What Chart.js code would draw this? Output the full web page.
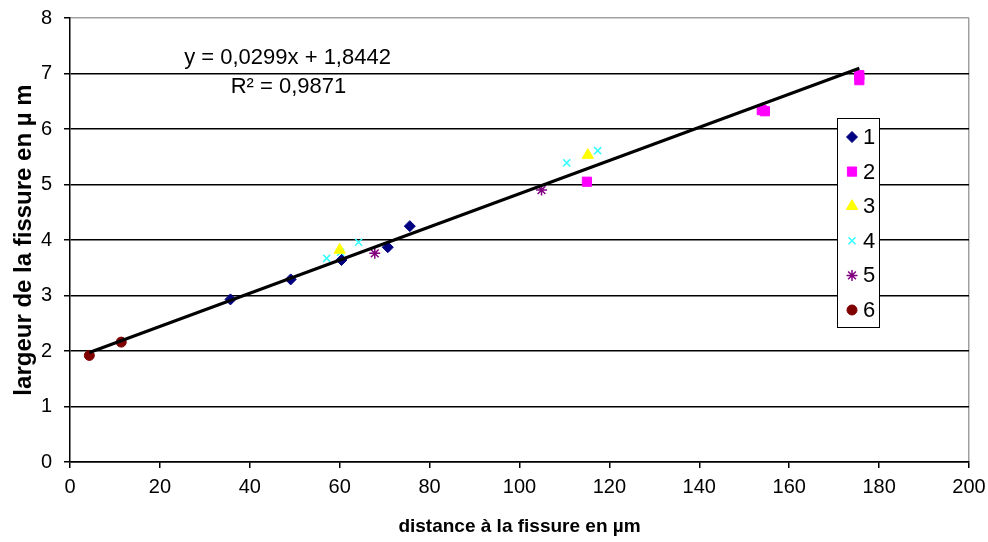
<!DOCTYPE html>
<html>
<head>
<meta charset="utf-8">
<script src="https://cdn.jsdelivr.net/npm/chart.js@4"></script>
<style>
  html, body { margin: 0; padding: 0; background: #fff; }
  #wrap { width: 988px; height: 542px; }
</style>
</head>
<body>
<div id="wrap"><canvas id="chart" width="988" height="542"></canvas></div>
<script>
// values (x = distance, y = largeur)
const serie1 = [[35.7, 2.93], [49.1, 3.29], [60.4, 3.64], [70.7, 3.87], [75.6, 4.25]];
const serie2 = [[115.0, 5.05], [153.9, 6.34], [154.6, 6.32], [175.6, 6.88], [175.6, 6.97]];
const serie3 = [[60.0, 3.82], [115.2, 5.53]];
const serie4 = [[57.1, 3.67], [60.2, 3.78], [64.2, 3.96], [110.5, 5.39], [117.4, 5.61]];
const serie5 = [[67.8, 3.76], [104.9, 4.90]];
const serie6 = [[4.3, 1.92], [11.4, 2.16]];

const seriesNames = ['1', '2', '3', '4', '5', '6'];

// linear trendline shown on the chart
const pente = 0.0299;
const ordonnee = 1.8442;
const equation = 'y = 0,0299x + 1,8442';
const r2Text = 'R² = 0,9871';

const xTicks = [0, 20, 40, 60, 80, 100, 120, 140, 160, 180, 200];
const yTicks = [0, 1, 2, 3, 4, 5, 6, 7, 8];

const FONT = "'Liberation Sans', Arial, sans-serif";

const toPts = arr => arr.map(p => ({x: p[0], y: p[1]}));

const allX = [serie1, serie2, serie3, serie4, serie5, serie6].flat().map(p => p[0]);
const xMin = Math.min(...allX), xMax = Math.max(...allX);
const trend = [xMin, xMax].map(x => ({x: x, y: pente * x + ordonnee}));

const styles = [
    {pointStyle: 'rectRot', color: '#000080', r: 5.5},
    {pointStyle: 'rect', color: '#ff00ff', r: 6.5},
    {pointStyle: 'triangle', color: '#ffff00', r: 6.5},
    {pointStyle: 'crossRot', color: '#33ffff', r: 5},
    {pointStyle: 'star', color: '#800080', r: 5.5},
    {pointStyle: 'circle', color: '#800000', r: 5},
];

const datasets = [serie1, serie2, serie3, serie4, serie5, serie6].map((s, i) => ({
    label: seriesNames[i],
    data: toPts(s),
    pointStyle: styles[i].pointStyle,
    pointRadius: styles[i].r,
    backgroundColor: styles[i].color,
    borderColor: styles[i].color,
    borderWidth: (styles[i].pointStyle == 'crossRot' || styles[i].pointStyle == 'star') ? 1.5 : 1,
    showLine: false,
    order: 1,
}));

datasets.push({
    label: 'trend',
    data: trend,
    showLine: true,
    borderColor: '#000',
    borderWidth: 3,
    pointRadius: 0,
    order: 0,
});

// equation + custom legend box inside the plot area
const extras = {
    id: 'extras',
    afterDraw(chart) {
        const ctx = chart.ctx;
        const xs = chart.scales.x, ys = chart.scales.y;
        const area = chart.chartArea;
        ctx.save();
        ctx.fillStyle = '#000';
        ctx.font = "22px " + FONT;
        ctx.textAlign = 'center';
        ctx.textBaseline = 'middle';
        ctx.fillText(equation, xs.getPixelForValue(48.4), ys.getPixelForValue(7.28));
        ctx.fillText(r2Text, xs.getPixelForValue(48.6), ys.getPixelForValue(6.76));

        // legend
        const left = area.right - 132, top = 118, w = 42, h = 209;
        ctx.fillStyle = '#fff';
        ctx.fillRect(left, top, w, h);
        ctx.strokeStyle = '#000';
        ctx.lineWidth = 1;
        ctx.strokeRect(left + 0.5, top + 0.5, w, h);
        ctx.textAlign = 'left';
        const step = 34.6;
        for (let i = 0; i < 6; i++) {
            const cy = top + 19 + i * step;
            const ds = chart.data.datasets[i];
            ctx.fillStyle = ds.backgroundColor;
            ctx.strokeStyle = ds.borderColor;
            ctx.lineWidth = ds.borderWidth;
            Chart.helpers.drawPoint(ctx, {pointStyle: ds.pointStyle, radius: ds.pointRadius, rotation: 0, borderWidth: ds.borderWidth}, left + 15, cy);
            ctx.fillStyle = '#000';
            ctx.font = "22px " + FONT;
            ctx.fillText(ds.label, left + 26, cy + 1);
        }
        ctx.restore();
    }
};

new Chart(document.getElementById('chart'), {
    type: 'scatter',
    data: {datasets: datasets},
    options: {
        responsive: false,
        animation: false,
        layout: {padding: {top: 18, right: 19, left: 0, bottom: 0}},
        plugins: {
            legend: {display: false},
            tooltip: {enabled: false},
        },
        scales: {
            x: {
                type: 'linear',
                min: 0, max: 200,
                afterBuildTicks: s => { s.ticks = xTicks.map(v => ({value: v})); },
                afterFit: s => { s.height = 80; s.paddingLeft = 0; s.paddingRight = 0; },
                ticks: {color: '#000', font: {family: FONT, size: 20}, padding: 7, maxRotation: 0},
                grid: {
                    drawOnChartArea: true,
                    color: c => c.tick && c.tick.value === 200 ? '#a0a0a0' : 'rgba(0,0,0,0)',
                    tickColor: '#000',
                    tickLength: 6,
                    lineWidth: 1.5,
                },
                border: {color: '#000', width: 1.5},
                title: {
                    display: true,
                    text: 'distance à la fissure en µm',
                    color: '#000',
                    font: {family: FONT, size: 19, weight: 'bold'},
                    padding: {top: 12},
                },
            },
            y: {
                type: 'linear',
                min: 0, max: 8,
                afterBuildTicks: s => { s.ticks = yTicks.map(v => ({value: v})); },
                afterFit: s => { s.width = 70; s.paddingTop = 0; s.paddingBottom = 0; },
                ticks: {color: '#000', font: {family: FONT, size: 20}, padding: 12},
                grid: {
                    color: c => c.tick && c.tick.value === 8 ? '#a0a0a0' : '#000',
                    tickColor: '#000',
                    tickLength: 6,
                    lineWidth: 1.5,
                },
                border: {color: '#000', width: 1.5},
                title: {
                    display: true,
                    text: 'largeur de la fissure en µ m',
                    color: '#000',
                    font: {family: FONT, size: 24, weight: 'bold'},
                    padding: {top: 10, bottom: 0},
                },
            },
        },
    },
    plugins: [extras],
});
</script>
</body>
</html>
